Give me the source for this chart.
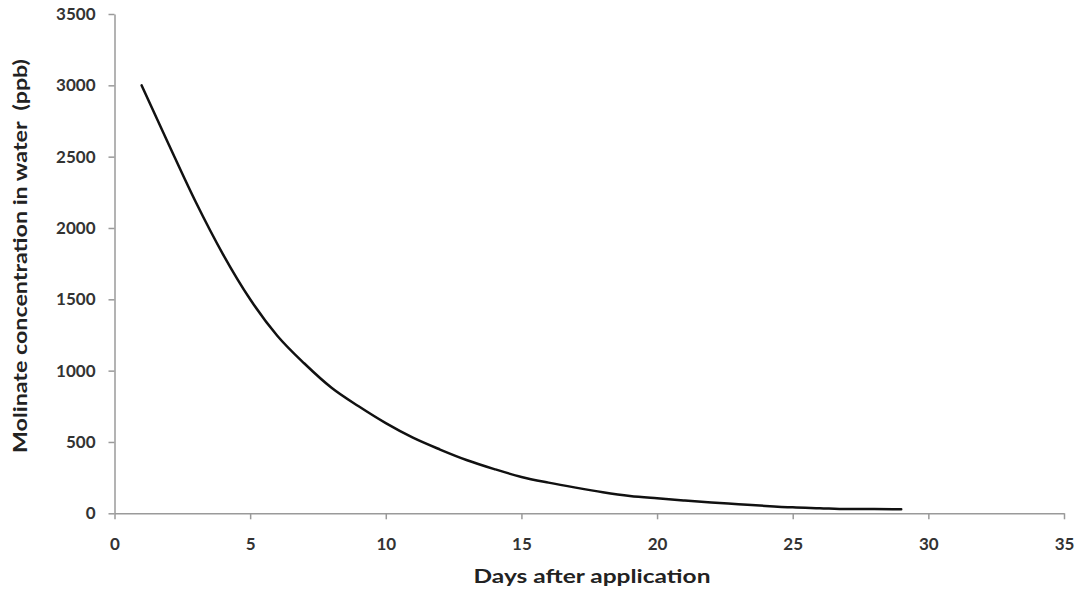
<!DOCTYPE html>
<html>
<head>
<meta charset="utf-8">
<script src="https://cdn.jsdelivr.net/npm/d3@7"></script>
<style>
  body { margin: 0; background: #fff; }
  .tick text { font-family: Lato, "Open Sans", sans-serif; font-weight: 700; font-size: 17px; fill: #333; }
  .title { font-family: Lato, "Open Sans", sans-serif; font-weight: 700; font-size: 19px; fill: #222; white-space: pre; }
</style>
</head>
<body>
<div class="container-viewer"></div>
<script>
//* DATA *//
// days after application (x) and molinate concentration in water, ppb (y)
const days = [1, 2, 3, 4, 5, 6, 7, 8, 9, 10, 11, 12, 13, 14, 15, 16, 17, 18, 19, 20, 21, 22, 23, 24, 25, 26, 27, 28, 29];
const concentration = [3000, 2585, 2180, 1815, 1500, 1245, 1050, 880, 750, 632, 530, 447, 372, 310, 255, 215, 180, 148, 122, 105, 90, 76, 64, 52, 42, 36, 30, 30, 28];
const xTicks = [0, 5, 10, 15, 20, 25, 30, 35];
const yTicks = [0, 500, 1000, 1500, 2000, 2500, 3000, 3500];
const xTitle = 'Days after application';
const yTitle = 'Molinate concentration in water  (ppb)';

const { select, scaleLinear, axisBottom, axisLeft, line, curveMonotoneX, format } = d3;

const width = 1081;
const height = 590;

const svg = select('.container-viewer').append('svg').attr('width', width).attr('height', height);

//* SCALES *//
const x = scaleLinear().domain([0, 35]).range([114.5, 1064]);
const y = scaleLinear().domain([0, 3500]).range([513.3, 14]);

//* AXES *//
const axisColor = '#9a9a9a';

const gx = svg
  .append('g')
  .attr('transform', `translate(0,${y(0)})`)
  .call(axisBottom(x).tickValues(xTicks).tickFormat(format('d')).tickSize(6).tickPadding(19).tickSizeOuter(0));

const gy = svg
  .append('g')
  .attr('transform', `translate(${x(0)},0)`)
  .call(axisLeft(y).tickValues(yTicks).tickFormat(format('d')).tickSize(6).tickPadding(13).tickSizeOuter(0));

[gx, gy].forEach((g) => {
  g.select('.domain').attr('stroke', axisColor).attr('stroke-width', 1.5);
  g.selectAll('.tick line').attr('stroke', axisColor).attr('stroke-width', 1.5);
});

//* CURVE *//
const points = days.map((d, i) => [d, concentration[i]]);

svg
  .append('path')
  .datum(points)
  .attr('fill', 'none')
  .attr('stroke', '#111')
  .attr('stroke-width', 2.5)
  .attr('stroke-linejoin', 'round')
  .attr('stroke-linecap', 'round')
  .attr('d', line().x((d) => x(d[0])).y((d) => y(d[1])).curve(curveMonotoneX));

//* TITLES *//
svg
  .append('text')
  .attr('class', 'title')
  .attr('x', 592)
  .attr('y', 583)
  .attr('text-anchor', 'middle')
  .attr('textLength', 237)
  .attr('lengthAdjust', 'spacingAndGlyphs')
  .text(xTitle);

svg
  .append('text')
  .attr('class', 'title')
  .attr('transform', 'translate(27,256) rotate(-90)')
  .attr('text-anchor', 'middle')
  .attr('textLength', 394)
  .attr('lengthAdjust', 'spacingAndGlyphs')
  .text(yTitle);
</script>
</body>
</html>
